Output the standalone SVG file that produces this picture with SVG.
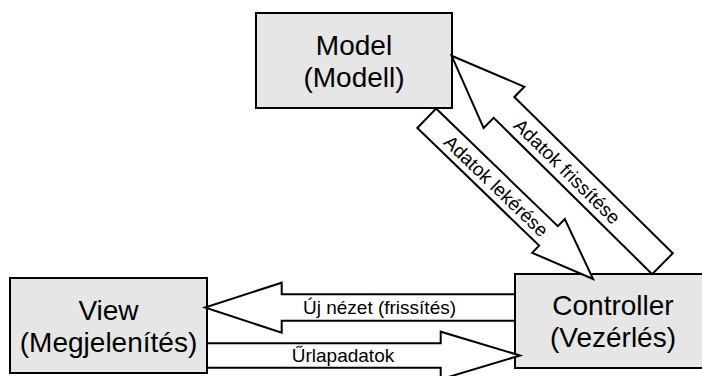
<svg xmlns="http://www.w3.org/2000/svg" width="702" height="376" viewBox="0 0 702 376">
  <style>
    .box { fill: #e6e6e6; stroke: #000; stroke-width: 2; }
    .title { font-family: "Liberation Sans", Arial, sans-serif; font-size: 28px; fill: #000; text-anchor: middle; }
    .arrow { fill: #fff; stroke: #000; stroke-width: 2; stroke-linejoin: miter; }
    .lbl { font-family: "Liberation Sans", Arial, sans-serif; font-size: 19px; fill: #000; text-anchor: middle; }
  </style>
  <rect width="702" height="376" fill="#fff"/>

  <g id="model">
    <rect class="box" x="256" y="13" width="196" height="95"/>
    <text class="title" x="354" y="55">Model</text>
    <text class="title" x="354" y="87">(Modell)</text>
  </g>

  <g id="view">
    <rect class="box" x="10" y="278" width="197" height="95"/>
    <text class="title" x="108.5" y="320">View</text>
    <text class="title" x="108.5" y="352">(Megjelenítés)</text>
  </g>

  <g id="controller">
    <rect class="box" x="515" y="274" width="196" height="94"/>
    <text class="title" x="613" y="315">Controller</text>
    <text class="title" x="613" y="347">(Vezérlés)</text>
  </g>

  <g id="connectors">
    <!-- Model -> Controller: fetching data -->
    <g id="fetch">
      <polygon class="arrow" transform="translate(426.7,118.3) rotate(44)"
        points="0,-13.5 169.3,-13.5 169.3,-23.5 231.3,0 169.3,23.5 169.3,13.5 0,13.5"/>
      <text class="lbl" transform="translate(496.4,185.7) rotate(44)" y="7">Adatok lekérése</text>
    </g>
    <!-- Controller -> Model: updating data -->
    <g id="update">
      <polygon class="arrow" transform="translate(662.5,263.7) rotate(224.6)"
        points="0,-14.7 222.6,-14.7 222.6,-29 296.2,0 222.6,29 222.6,14.7 0,14.7"/>
      <text class="lbl" transform="translate(567.5,171) rotate(44.6)" y="7">Adatok frissítése</text>
    </g>
    <!-- Controller -> View: new view -->
    <g id="newview">
      <polygon class="arrow"
        points="515,294.3 281.7,294.3 281.7,282.7 205,307.5 281.7,332.7 281.7,320.7 515,320.7"/>
      <text class="lbl" x="379.5" y="314">Új nézet (frissítés)</text>
    </g>
    <!-- View -> Controller: form data -->
    <g id="formdata">
      <polygon class="arrow"
        points="207,343.3 440.7,343.3 440.7,331.7 520,355.5 440.7,379.3 440.7,367.7 207,367.7"/>
      <text class="lbl" x="343" y="362">Űrlapadatok</text>
    </g>
  </g>
</svg>
